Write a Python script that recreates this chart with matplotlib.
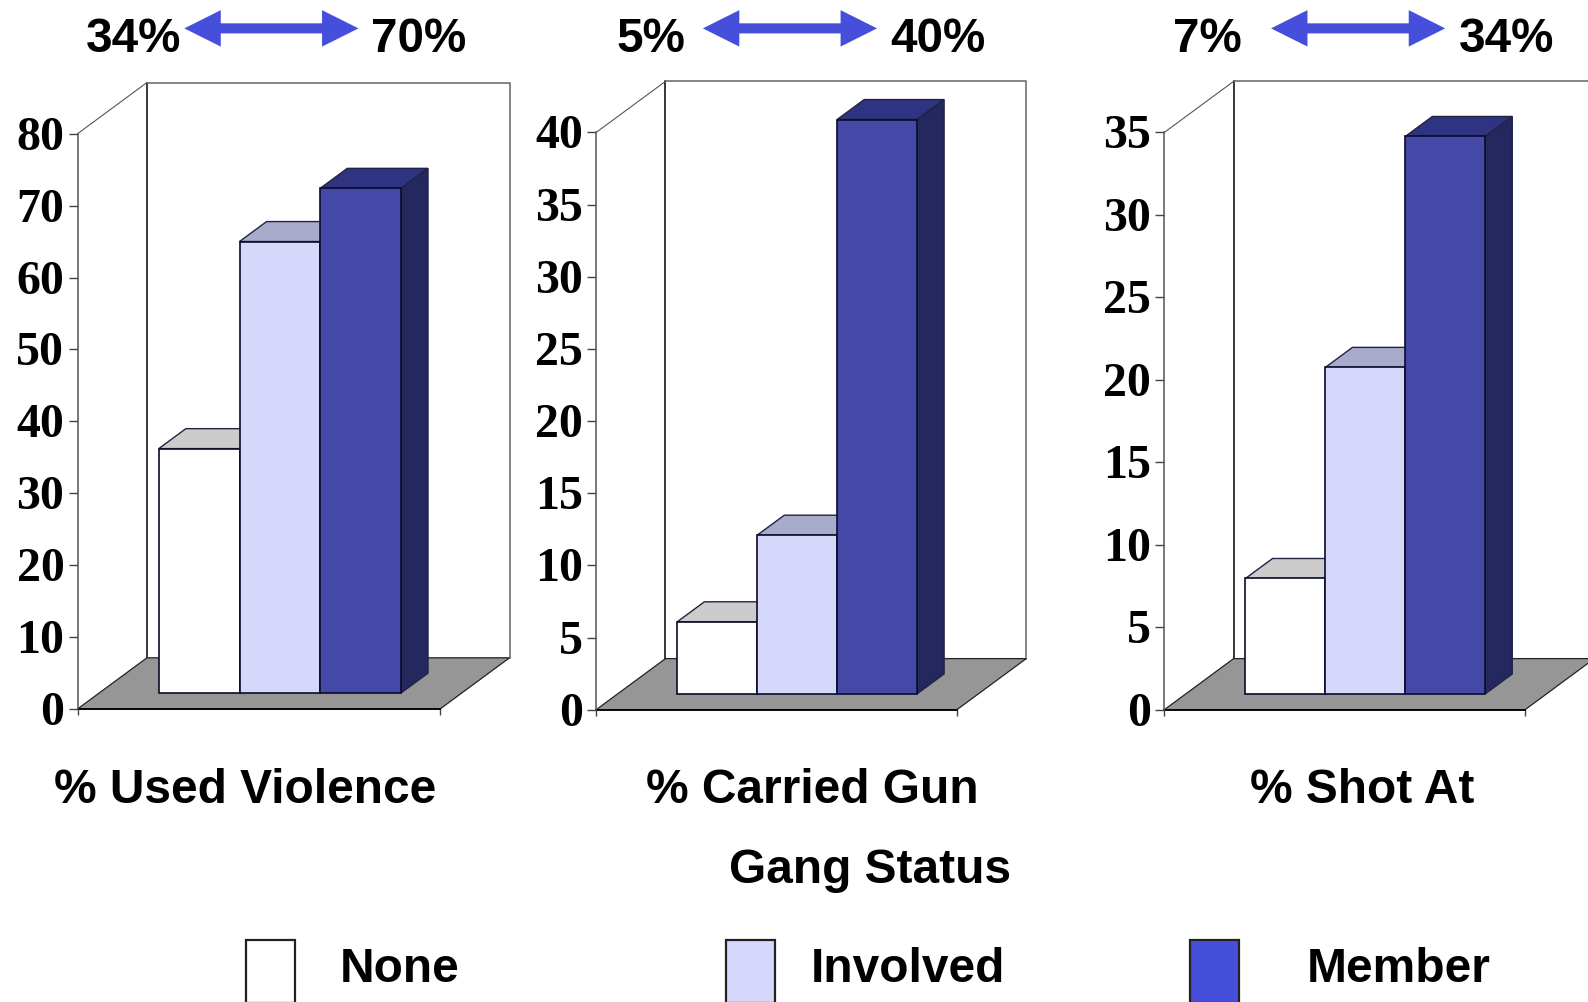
import matplotlib
matplotlib.use("Agg")
import matplotlib.pyplot as plt
from matplotlib.patches import Polygon, Rectangle
from matplotlib.transforms import ScaledTranslation

# ---- data ----
groups = ["None", "Involved", "Member"]
panel_titles = ["% Used Violence", "% Carried Gun", "% Shot At"]
used_violence = [34, 62.8, 70.2]
carried_gun = [5, 11, 39.8]
shot_at = [7, 19.8, 33.8]
y_maxes = [80, 40, 35]
y_steps = [10, 5, 5]
arrow_left = ["34%", "5%", "7%"]
arrow_right = ["70%", "40%", "34%"]
legend_title = "Gang Status"

# ---- style / layout (pixels of the displayed 1568-wide layout) ----
S = 1588 / 1568
W, H = 1588, 1003
front_col = ["#FFFFFF", "#D5D7FB", "#4449A8"]
top_col = ["#CCCCCC", "#A9ABCC", "#2F3482"]
side_col = ["#999999", "#8F90B8", "#25275F"]
legend_col = ["#FFFFFF", "#D5D7FB", "#464FDB"]
floor_col = "#969696"
SERIF = "Liberation Serif"
SANS = "Liberation Sans"

panels = [
    dict(x0=76.6, x1=434.6, y0=701.0, y1=133.0, bar=79.7, first=156.8),
    dict(x0=588.6, x1=944.8, y0=701.8, y1=131.8, bar=78.9, first=668.8),
    dict(x0=1149.6, x1=1505.8, y0=701.8, y1=131.8, bar=78.9, first=1229.8),
]
DEPTH_X, DEPTH_Y = 68.5, 50.5
K0, K1 = 0.31, 0.70   # depth range taken by the bars

fig = plt.figure(figsize=(W / 100, H / 100), dpi=100, facecolor="white")
series = [used_violence, carried_gun, shot_at]

for p, vals, ymax, step, title in zip(panels, series, y_maxes, y_steps, panel_titles):
    wpx, hpx = p["x1"] - p["x0"], p["y0"] - p["y1"]
    ax = fig.add_axes([p["x0"] * S / W, 1 - p["y0"] * S / H, wpx * S / W, hpx * S / H])
    ax.patch.set_alpha(0)
    # category axis: one unit = one bar; bar 0 centred at 0
    left_units = (p["first"] - p["x0"]) / p["bar"] + 0.5
    xmin, xmax = -left_units, -left_units + wpx / p["bar"]
    ax.set_xlim(xmin, xmax)
    ax.set_ylim(0, ymax)
    dxu = DEPTH_X / p["bar"]
    dyu = DEPTH_Y / hpx * ymax

    def off(x, y, k):
        return (x + k * dxu, y + k * dyu)

    # walls and floor
    ax.add_patch(Polygon([off(xmin, 0, 1), off(xmax, 0, 1), off(xmax, ymax, 1), off(xmin, ymax, 1)],
                         closed=True, fc="white", ec="none", clip_on=False, zorder=1))
    ax.plot(*zip(off(xmin, 0, 1), off(xmin, ymax, 1)), color="black", lw=1.1, clip_on=False, zorder=2)
    ax.plot(*zip(off(xmin, ymax, 1), off(xmax, ymax, 1), off(xmax, 0, 1)), color="#707070", lw=1.2,
            clip_on=False, zorder=2)
    ax.plot(*zip(off(xmin, ymax, 0), off(xmin, ymax, 1)), color="#555555", lw=0.8, clip_on=False, zorder=2)
    ax.add_patch(Polygon([off(xmin, 0, 0), off(xmax, 0, 0), off(xmax, 0, 1), off(xmin, 0, 1)],
                         closed=True, fc=floor_col, ec="#222222", lw=0.9, clip_on=False, zorder=3))
    ax.plot([xmin, xmax], [0, 0], color="black", lw=1.3, clip_on=False, zorder=4)

    # bars
    base = K0 * dyu
    for i, v in enumerate(vals):
        xl = i - 0.5
        xr = i + 0.5
        z = 5 + i
        top = base + v
        d = (K1 - K0)
        ax.bar(i, v, width=1.0, bottom=base, color=front_col[i], edgecolor="#0B0B2A", linewidth=1.2,
               zorder=z + 0.5, clip_on=False)
        ax.add_patch(Polygon([(xl, top), (xr, top), off(xr, top, d), off(xl, top, d)], closed=True,
                             fc=top_col[i], ec="#222244", lw=1.0, clip_on=False, zorder=z))
        ax.add_patch(Polygon([(xr, base), off(xr, base, d), off(xr, top, d), (xr, top)], closed=True,
                             fc=side_col[i], ec="#222244", lw=1.0, clip_on=False, zorder=z))

    # axes furniture
    for s in ("top", "right", "bottom"):
        ax.spines[s].set_visible(False)
    ax.spines["left"].set_color("#555555")
    ax.spines["left"].set_linewidth(1.1)
    ax.spines["left"].set_zorder(4)
    ax.set_yticks(list(range(0, ymax + 1, step)))
    ax.tick_params(axis="y", length=6.5, width=1.0, color="#444444", pad=3)
    nudge = ScaledTranslation(0, 2 / 100, fig.dpi_scale_trans)
    for lab in ax.get_yticklabels():
        lab.set_fontfamily(SERIF)
        lab.set_fontweight("bold")
        lab.set_fontsize(34.5)
        lab.set_transform(lab.get_transform() + nudge)
    ax.set_xticks([xmin, xmax])
    ax.set_xticklabels(["", ""])
    ax.tick_params(axis="x", length=4, width=1.0, color="#444444")

# overlay for text, arrows and legend (pixel layout)
ov = fig.add_axes([0, 0, 1, 1], zorder=20)
ov.set_xlim(0, W / S)
ov.set_ylim(H / S, 0)
ov.axis("off")
ov.patch.set_alpha(0)

title_cx = [242, 802, 1345]
for cx, t in zip(title_cx, panel_titles):
    ov.text(cx, 780.5, t, ha="center", va="center", family=SANS, weight="bold", fontsize=34.5)

arrow_x = [(182, 354), (694, 866), (1255, 1427)]
left_right_edge = [178.5, 677, 1226.5]
right_left_edge = [366, 879, 1440.5]
ARROW_Y, HEAD_L, HEAD_HALF, SHAFT_HALF = 29, 36, 18, 5
for (a, b), l, r, le, re in zip(arrow_x, arrow_left, arrow_right, left_right_edge, right_left_edge):
    ov.add_patch(Polygon([
        (a, ARROW_Y), (a + HEAD_L, ARROW_Y - HEAD_HALF), (a + HEAD_L, ARROW_Y - SHAFT_HALF),
        (b - HEAD_L, ARROW_Y - SHAFT_HALF), (b - HEAD_L, ARROW_Y - HEAD_HALF), (b, ARROW_Y),
        (b - HEAD_L, ARROW_Y + HEAD_HALF), (b - HEAD_L, ARROW_Y + SHAFT_HALF),
        (a + HEAD_L, ARROW_Y + SHAFT_HALF), (a + HEAD_L, ARROW_Y + HEAD_HALF),
    ], closed=True, fc="#464FDB", ec="none"))
    ov.text(le, 39, l, ha="right", va="center", family=SANS, weight="bold", fontsize=34.3)
    ov.text(re, 39, r, ha="left", va="center", family=SANS, weight="bold", fontsize=34.3)

ov.text(859, 859.5, legend_title, ha="center", va="center", family=SANS, weight="bold", fontsize=34.5)
legend_box_x = [243, 717, 1175]
legend_text_x = [335, 800.5, 1290.5]
for bx, tx, c, g in zip(legend_box_x, legend_text_x, legend_col, groups):
    ov.add_patch(Rectangle((bx, 929), 48, 62, fc=c, ec="#222222", lw=1.6, clip_on=False))
    ov.text(tx, 957, g, ha="left", va="center", family=SANS, weight="bold", fontsize=34.5)

fig.savefig("out.png", dpi=100, facecolor="white")
